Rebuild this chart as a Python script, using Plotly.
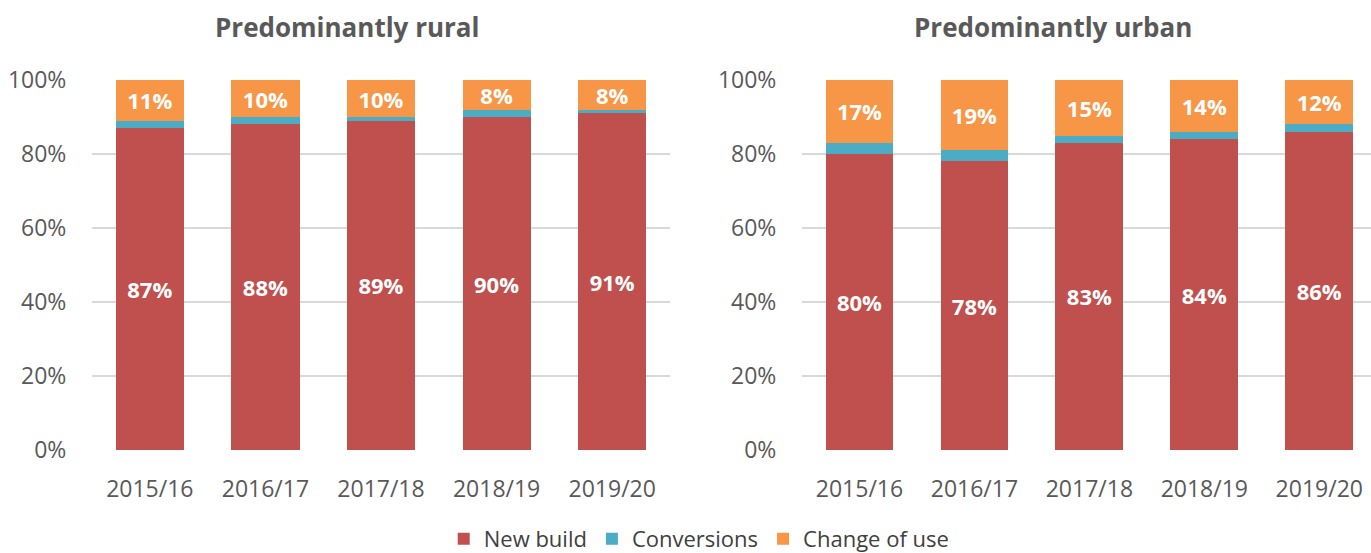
import plotly.graph_objects as go

years = ["2015/16", "2016/17", "2017/18", "2018/19", "2019/20"]

rural_new_build = [87, 88, 89, 90, 91]
rural_change_of_use = [11, 10, 10, 8, 8]
rural_conversions = [100 - a - b for a, b in zip(rural_new_build, rural_change_of_use)]

urban_new_build = [80, 78, 83, 84, 86]
urban_change_of_use = [17, 19, 15, 14, 12]
urban_conversions = [100 - a - b for a, b in zip(urban_new_build, urban_change_of_use)]

series_names = ["New build", "Conversions", "Change of use"]
colors = ["#C0504D", "#4BACC6", "#F79646"]
labelled = [True, False, True]

pct_ticks = [0, 20, 40, 60, 80, 100]
pct_labels = [f"{v}%" for v in pct_ticks]

FONT = "Open Sans"
GREY = "#595959"

fig = go.Figure()

panels = [
    ("x", "y", [rural_new_build, rural_conversions, rural_change_of_use], True),
    ("x2", "y2", [urban_new_build, urban_conversions, urban_change_of_use], False),
]

for xa, ya, values, show_legend in panels:
    for name, vals, color, lab in zip(series_names, values, colors, labelled):
        fig.add_trace(go.Bar(
            x=years, y=vals, name=name, xaxis=xa, yaxis=ya,
            marker=dict(color=color, line=dict(width=0)),
            text=[f"{v}%" for v in vals] if lab else None,
            textposition="inside" if lab else "none",
            insidetextanchor="middle",
            constraintext="none",
            textfont=dict(family=FONT, size=22, color="white", weight="bold"),
            showlegend=show_legend, legendgroup=name,
            hoverinfo="skip",
        ))

y_dom = [(553 - 450) / 553, (553 - 80) / 553]
yaxis_common = dict(
    range=[0, 100], tickvals=pct_ticks, ticktext=pct_labels,
    showgrid=True, gridcolor="#D9D9D9", gridwidth=1.5, zeroline=False,
    showline=False, tickfont=dict(family=FONT, size=23, color=GREY),
    ticks="outside", ticklen=20, tickcolor="rgba(0,0,0,0)", domain=y_dom,
)
xaxis_common = dict(
    showgrid=False, zeroline=False, showline=False,
    ticks="outside", ticklen=18, tickcolor="rgba(0,0,0,0)",
    tickfont=dict(family=FONT, size=23, color=GREY), type="category",
)

fig.update_layout(
    width=1371, height=553,
    margin=dict(l=0, r=0, t=0, b=0, autoexpand=False),
    paper_bgcolor="white", plot_bgcolor="white",
    barmode="stack", bargap=0.41,
    xaxis=dict(domain=[92 / 1371, 670 / 1371], range=[-0.5, 4.5], anchor="y", **xaxis_common),
    yaxis=dict(anchor="x", **yaxis_common),
    xaxis2=dict(domain=[802 / 1371, 1.0], range=[-0.5, 4.45], anchor="y2", **xaxis_common),
    yaxis2=dict(anchor="x2", **yaxis_common),
    legend=dict(
        orientation="h", x=0.51, xanchor="center", y=(553 - 539) / 553, yanchor="middle",
        font=dict(family=FONT, size=22, color="#404040"), traceorder="normal",
        itemwidth=30,
    ),
    annotations=[
        dict(text="<b>Predominantly rural</b>", x=347 / 1371, y=(553 - 27) / 553,
             xref="paper", yref="paper", showarrow=False, xanchor="center", yanchor="middle",
             font=dict(family=FONT, size=26, color=GREY)),
        dict(text="<b>Predominantly urban</b>", x=1053 / 1371, y=(553 - 27) / 553,
             xref="paper", yref="paper", showarrow=False, xanchor="center", yanchor="middle",
             font=dict(family=FONT, size=26, color=GREY)),
    ],
)

fig.write_html("out.html")
